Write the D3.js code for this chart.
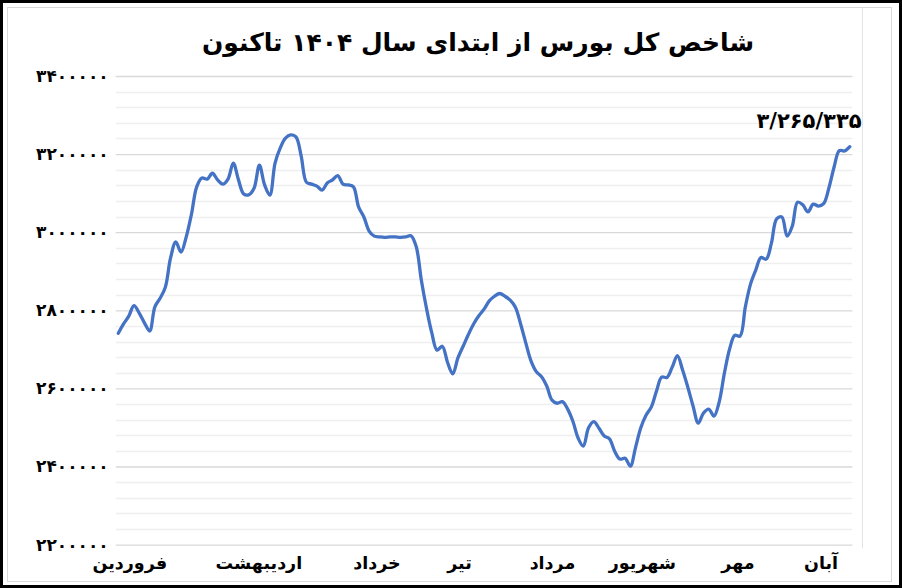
<!DOCTYPE html>
<html><head><meta charset="utf-8">
<script src="https://cdn.jsdelivr.net/npm/d3@7/dist/d3.min.js"></script>
<style>body{margin:0;background:#fff} svg{display:block}</style>
</head><body>
<svg id="chart" width="902" height="588"></svg>
<script>
// ---------- data ----------
const chartTitle = "شاخص کل بورس از ابتدای سال ۱۴۰۴ تاکنون";
const lastValueLabel = "۳/۲۶۵/۳۳۵";
const indexValues = [
  2741000,2765000,2785000,2812000,2793000,2768000,2747000,2809000,2831000,2859000,
  2934000,2975000,2949000,2988000,3046000,3116000,3139000,3136000,3151000,3134000,
  3123000,3136000,3177000,3134000,3098000,3096000,3113000,3172000,3121000,3095000,
  3177000,3216000,3241000,3249000,3244000,3195000,3128000,3123000,3118000,3108000,
  3126000,3134000,3145000,3123000,3121000,3116000,3064000,3039000,3003000,2990000,
  2988000,2987000,2988000,2988000,2987000,2988000,2991000,2964000,2877000,2804000,
  2742000,2698000,2708000,2667000,2637000,2678000,2708000,2738000,2765000,2786000,
  2803000,2824000,2836000,2843000,2836000,2826000,2808000,2765000,2716000,2670000,
  2643000,2630000,2606000,2570000,2562000,2566000,2547000,2516000,2473000,2452000,
  2499000,2515000,2498000,2478000,2471000,2439000,2419000,2421000,2401000,2449000,
  2499000,2531000,2552000,2593000,2629000,2628000,2654000,2684000,2647000,2603000,
  2555000,2511000,2537000,2547000,2529000,2565000,2639000,2701000,2736000,2734000,
  2808000,2867000,2903000,2935000,2931000,2972000,3034000,3039000,2990000,3016000,
  3077000,3070000,3052000,3072000,3067000,3073000,3113000,3167000,3209000,3208000,
  3219000
];
const monthNames = ["فروردین","اردیبهشت","خرداد","تیر","مرداد","شهریور","مهر","آبان"];
const monthAtDay = [2.2, 26.9, 49.5, 65.3, 83.1, 100.3, 118.6, 134.5];
const yTicks = [2200000,2400000,2600000,2800000,3000000,3200000,3400000];
const yMinorStep = 40000;

// ---------- helpers ----------
const faDigits = "۰۱۲۳۴۵۶۷۸۹";
const toFa = s => String(s).replace(/[0-9]/g, d => faDigits[+d]);

const svg = d3.select("#chart");
const W = 902, H = 588;
const font = "'DejaVu Sans', sans-serif";

// frames
svg.append("rect").attr("x",1.5).attr("y",1.5).attr("width",W-3).attr("height",H-3)
  .attr("fill","#fff").attr("stroke","#000").attr("stroke-width",3);
svg.append("rect").attr("x",7.5).attr("y",7.5).attr("width",884).attr("height",574)
  .attr("fill","none").attr("stroke","#d9d9d9").attr("stroke-width",1);
svg.append("line").attr("x1",862.5).attr("x2",862.5).attr("y1",8).attr("y2",548)
  .attr("stroke","#e3e3e3").attr("stroke-width",1);

// scales
const x = d3.scaleLinear().domain([-0.5, indexValues.length - 0.5]).range([115.7, 852.4]);
const y = d3.scaleLinear().domain([2200000, 3400000]).range([544.6, 76]);

// minor gridlines
const minorTicks = d3.range(2200000, 3400000 + 1, yMinorStep).filter(v => !yTicks.includes(v));
svg.append("g").selectAll("line").data(minorTicks).join("line")
  .attr("x1", x.range()[0]).attr("x2", x.range()[1])
  .attr("y1", d => Math.round(y(d)) + 0.5).attr("y2", d => Math.round(y(d)) + 0.5)
  .attr("stroke", "#efefef").attr("stroke-width", 1.3);

// major gridlines + labels via axis
const yAxis = d3.axisLeft(y).tickValues(yTicks).tickSize(-(x.range()[1] - x.range()[0]))
  .tickFormat(d => toFa(d)).tickPadding(7);
const gy = svg.append("g").attr("transform", `translate(${x.range()[0]},0)`).call(yAxis);
gy.select(".domain").remove();
gy.selectAll(".tick line").attr("stroke", "#d9d9d9").attr("stroke-width", 1.3);
gy.selectAll(".tick text").attr("font-family", font).attr("font-weight", "bold")
  .attr("font-size", 17).attr("fill", "#000");

// line
const line = d3.line().x((d, i) => x(i)).y(d => y(d)).curve(d3.curveCatmullRom.alpha(0.5));
svg.append("path").datum(indexValues).attr("d", line)
  .attr("fill", "none").attr("stroke", "#4472C4").attr("stroke-width", 3.3)
  .attr("stroke-linejoin", "round").attr("stroke-linecap", "round");

// month labels
svg.append("g").selectAll("text").data(monthNames).join("text")
  .attr("x", (d, i) => x(monthAtDay[i])).attr("y", 569)
  .attr("text-anchor", "middle").attr("font-family", font).attr("font-weight", "bold")
  .attr("font-size", 17.5).attr("fill", "#000").text(d => d);

// title
svg.append("text").attr("x", 478).attr("y", 51).attr("text-anchor", "middle")
  .attr("font-family", font).attr("font-weight", "bold").attr("font-size", 25)
  .attr("fill", "#000").text(chartTitle);

// last value annotation
svg.append("text").attr("x", 809).attr("y", 128).attr("text-anchor", "middle")
  .attr("font-family", font).attr("font-weight", "bold").attr("font-size", 21)
  .attr("fill", "#000").text(lastValueLabel);
</script>
</body></html>
